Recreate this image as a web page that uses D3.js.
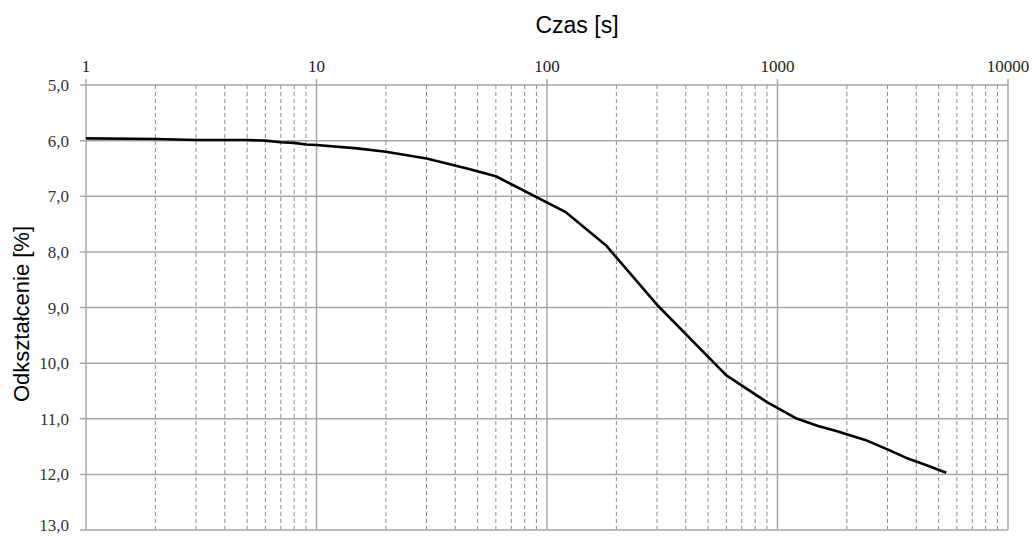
<!DOCTYPE html>
<html><head><meta charset="utf-8">
<script src="https://cdn.jsdelivr.net/npm/d3@7"></script>
<style>body{margin:0;background:#fff;}svg{display:block;}</style>
</head><body>
<svg id="c" width="1034" height="538"></svg>
<script>
const times = [1,2,3,4,5,6,7,8,9,10,15,20,30,45,60,120,180,300,600,900,1200,1500,1800,2400,3000,3600,4200,5400];
const strain = [5.96,5.97,5.99,5.99,5.99,6.0,6.03,6.04,6.07,6.08,6.14,6.2,6.32,6.5,6.64,7.28,7.88,8.95,10.22,10.7,10.99,11.13,11.22,11.38,11.55,11.7,11.8,11.97];
const xTickValues = [1,10,100,1000,10000];
const xTickLabels = ["1","10","100","1000","10000"];
const yTickValues = [5,6,7,8,9,10,11,12,13];
const yTickLabels = ["5,0","6,0","7,0","8,0","9,0","10,0","11,0","12,0","13,0"];
const xTitle = "Czas [s]";
const yTitle = "Odkształcenie [%]";

const svg = d3.select("#c");
const L=86, R=1008, T=85, B=530;
const x = d3.scaleLog().domain([1,10000]).range([L,R]);
const y = d3.scaleLinear().domain([5,13]).range([T,B]);

// minor dashed gridlines
const minors=[];
for(let d=1; d<10000; d*=10) for(let k=2;k<=9;k++) minors.push(d*k);
svg.append("g").selectAll("line").data(minors).join("line")
  .attr("x1",d=>x(d)).attr("x2",d=>x(d)).attr("y1",T).attr("y2",B)
  .attr("stroke","#8a8a8a").attr("stroke-width",1).attr("stroke-dasharray","4,3");

// horizontal gridlines + left ticks
svg.append("g").selectAll("line").data(yTickValues).join("line")
  .attr("x1",L-6).attr("x2",R).attr("y1",d=>y(d)).attr("y2",d=>y(d))
  .attr("stroke","#a6a6a6").attr("stroke-width",1.5);
// major verticals + top ticks
svg.append("g").selectAll("line").data(xTickValues).join("line")
  .attr("x1",d=>x(d)).attr("x2",d=>x(d)).attr("y1",T-6).attr("y2",B)
  .attr("stroke","#a6a6a6").attr("stroke-width",1.5);

// labels
svg.append("g").selectAll("text").data(xTickValues).join("text")
  .attr("x",d=>x(d)).attr("y",72).attr("text-anchor","middle")
  .attr("font-family","Liberation Serif, serif").attr("font-size",17).attr("fill","#222")
  .text((d,i)=>xTickLabels[i]);
svg.append("g").selectAll("text").data(yTickValues).join("text")
  .attr("x",69).attr("y",d=>Math.min(y(d)+6,531)).attr("text-anchor","end")
  .attr("font-family","Liberation Serif, serif").attr("font-size",17).attr("fill","#333")
  .text((d,i)=>yTickLabels[i]);

svg.append("text").attr("x",577).attr("y",33).attr("text-anchor","middle")
  .attr("font-family","Liberation Sans, Arial, sans-serif").attr("font-size",23).attr("fill","#000").text(xTitle);
svg.append("text").attr("transform","translate(29,314) rotate(-90)").attr("text-anchor","middle")
  .attr("font-family","Liberation Sans, Arial, sans-serif").attr("font-size",22).attr("fill","#000").text(yTitle);

// curve
const line = d3.line().x(d=>x(d[0])).y(d=>y(d[1]));
svg.append("path").datum(times.map((t,i)=>[t,strain[i]]))
  .attr("d",line).attr("fill","none").attr("stroke","#000").attr("stroke-width",2.6)
  .attr("stroke-linejoin","round");
</script>
</body></html>
